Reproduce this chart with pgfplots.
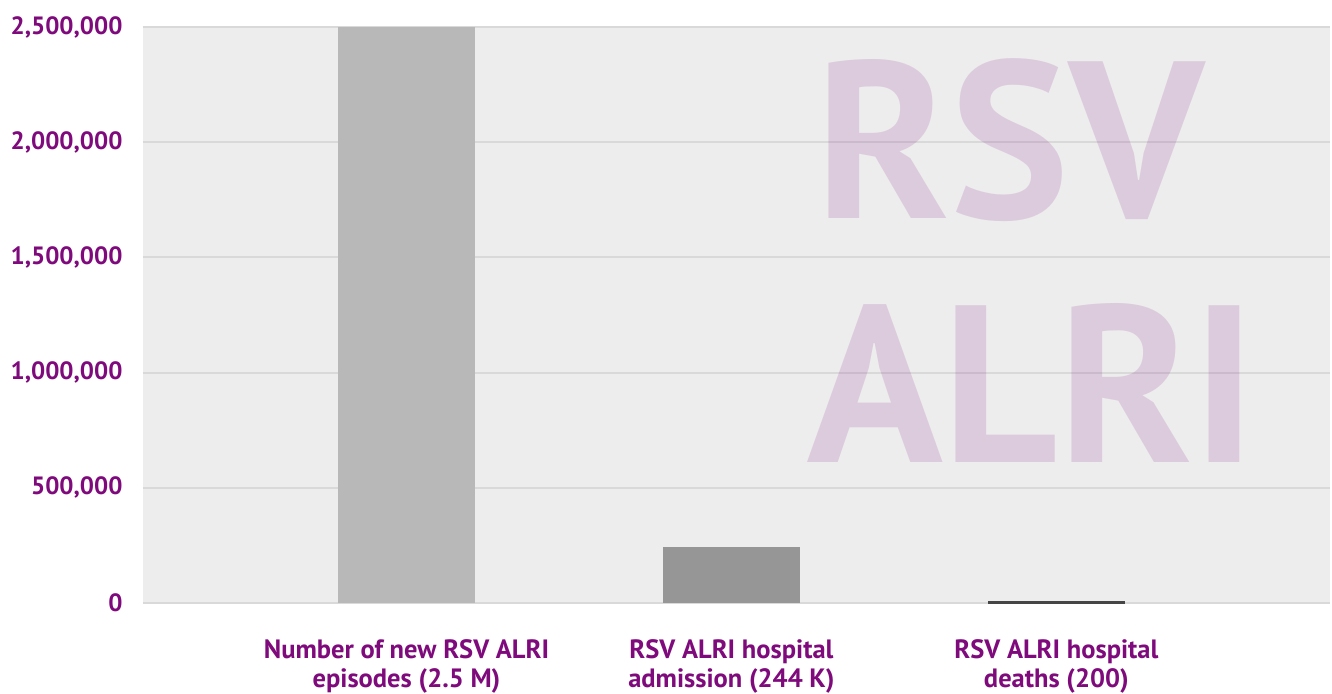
\documentclass[border=0pt]{standalone}
\usepackage{pgfplots}
\pgfplotsset{compat=1.18}
\usepackage{fontspec}
\setmainfont{PT Sans}
\definecolor{labpurple}{RGB}{126,10,124}
\definecolor{bgray}{RGB}{237,237,237}
\definecolor{gridgray}{RGB}{217,217,217}
\definecolor{barA}{RGB}{184,184,184}
\definecolor{barB}{RGB}{150,150,150}
\definecolor{barC}{RGB}{69,69,69}
\begin{document}
\begin{tikzpicture}
\useasboundingbox (-143pt,-90pt) rectangle (1189pt,603pt);
\begin{axis}[
  at={(0pt,0pt)}, anchor=south west,
  scale only axis, width=1187pt, height=576pt,
  xmin=-0.811, xmax=2.842, ymin=0, ymax=2500000,
  axis line style={draw=none},
  axis background/.style={fill=bgray},
  ytick={0,500000,1000000,1500000,2000000,2500000},
  scaled y ticks=false,
  y tick label style={/pgf/number format/fixed, /pgf/number format/1000 sep={,}, /pgf/number format/assume math mode=true},
  yticklabel style={font=\fontsize{25}{29}\selectfont\bfseries, text=labpurple, xshift=-17pt},
  xtick={0,1,2},
  xticklabels={Number of new RSV ALRI\\episodes (2.5 M), RSV ALRI hospital\\admission (244 K), RSV ALRI hospital\\deaths (200)},
  xticklabel style={font=\fontsize{26.5}{29}\selectfont\bfseries, text=labpurple, align=center, yshift=-33pt},
  major tick length=0pt,
  ymajorgrids, grid style={gridgray, line width=2pt},
  ybar, bar width=137pt,
]
\addplot[fill=barA, draw=none, bar shift=0pt] coordinates {(0,2500000)};
\addplot[fill=barB, draw=none, bar shift=0pt] coordinates {(1,244000)};
\addplot[fill=barC, draw=barC, line width=3pt, bar width=134pt, bar shift=0pt] coordinates {(2,200)};
\node[anchor=base, text=labpurple, opacity=0.15, font=\fontsize{224}{244}\selectfont\bfseries, inner sep=0pt] at (rel axis cs:0.7304,0.6667) {RSV};
\node[anchor=base, text=labpurple, opacity=0.15, font=\fontsize{224}{244}\selectfont\bfseries, inner sep=0pt] at (rel axis cs:0.749,0.2431) {ALRI};
\end{axis}
\end{tikzpicture}
\end{document}
